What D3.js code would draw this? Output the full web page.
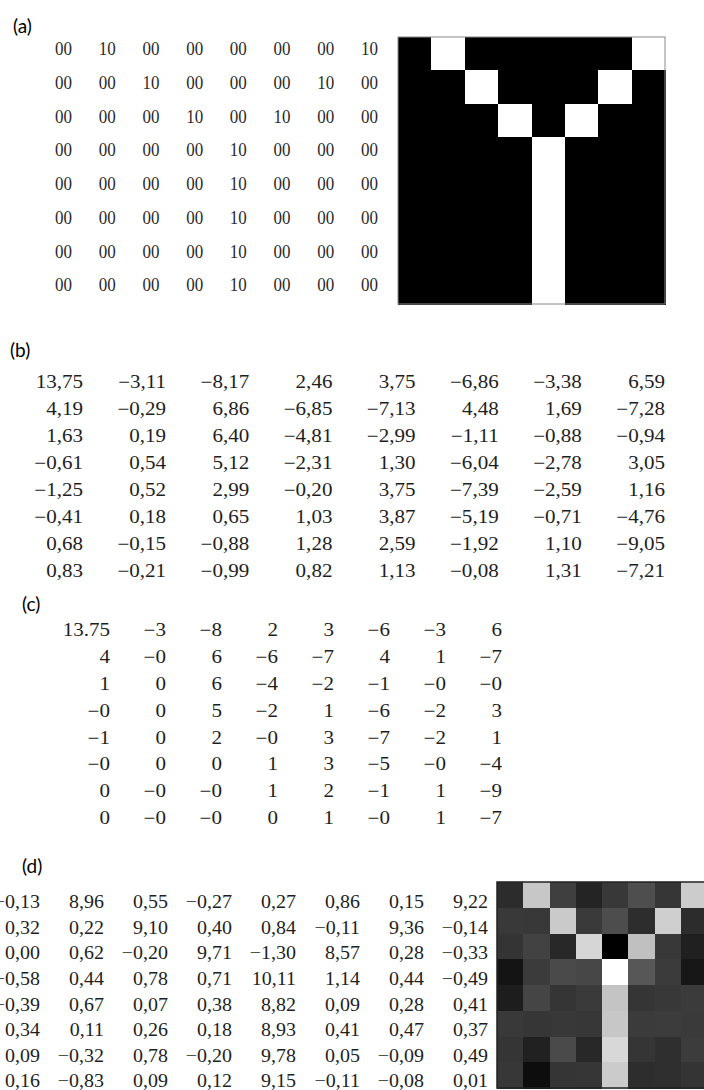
<!DOCTYPE html>
<html>
<head>
<meta charset="utf-8">
<script src="https://cdn.jsdelivr.net/npm/d3@7"></script>
<style>
  html, body { margin: 0; padding: 0; background: #fff; }
  svg { display: block; }
</style>
</head>
<body>
<svg id="fig" width="704" height="1090"></svg>
<script>
// (a) 8x8 binary "Y" pattern, values 0 / 10
const patternA = [
  [0, 10, 0, 0, 0, 0, 0, 10],
  [0, 0, 10, 0, 0, 0, 10, 0],
  [0, 0, 0, 10, 0, 10, 0, 0],
  [0, 0, 0, 0, 10, 0, 0, 0],
  [0, 0, 0, 0, 10, 0, 0, 0],
  [0, 0, 0, 0, 10, 0, 0, 0],
  [0, 0, 0, 0, 10, 0, 0, 0],
  [0, 0, 0, 0, 10, 0, 0, 0]
];

// (b) transform coefficients
const coeffB = [
  [13.75, -3.11, -8.17, 2.46, 3.75, -6.86, -3.38, 6.59],
  [4.19, -0.29, 6.86, -6.85, -7.13, 4.48, 1.69, -7.28],
  [1.63, 0.19, 6.40, -4.81, -2.99, -1.11, -0.88, -0.94],
  [-0.61, 0.54, 5.12, -2.31, 1.30, -6.04, -2.78, 3.05],
  [-1.25, 0.52, 2.99, -0.20, 3.75, -7.39, -2.59, 1.16],
  [-0.41, 0.18, 0.65, 1.03, 3.87, -5.19, -0.71, -4.76],
  [0.68, -0.15, -0.88, 1.28, 2.59, -1.92, 1.10, -9.05],
  [0.83, -0.21, -0.99, 0.82, 1.13, -0.08, 1.31, -7.21]
];

// (c) truncated coefficients (DC term kept)
const coeffC = [
  [13.75, -3, -8, 2, 3, -6, -3, 6],
  [4, -0, 6, -6, -7, 4, 1, -7],
  [1, 0, 6, -4, -2, -1, -0, -0],
  [-0, 0, 5, -2, 1, -6, -2, 3],
  [-1, 0, 2, -0, 3, -7, -2, 1],
  [-0, 0, 0, 1, 3, -5, -0, -4],
  [0, -0, -0, 1, 2, -1, 1, -9],
  [0, -0, -0, 0, 1, -0, 1, -7]
];

// (d) reconstructed block
const reconD = [
  [-0.13, 8.96, 0.55, -0.27, 0.27, 0.86, 0.15, 9.22],
  [0.32, 0.22, 9.10, 0.40, 0.84, -0.11, 9.36, -0.14],
  [0.00, 0.62, -0.20, 9.71, -1.30, 8.57, 0.28, -0.33],
  [-0.58, 0.44, 0.78, 0.71, 10.11, 1.14, 0.44, -0.49],
  [-0.39, 0.67, 0.07, 0.38, 8.82, 0.09, 0.28, 0.41],
  [0.34, 0.11, 0.26, 0.18, 8.93, 0.41, 0.47, 0.37],
  [0.09, -0.32, 0.78, -0.20, 9.78, 0.05, -0.09, 0.49],
  [0.16, -0.83, 0.09, 0.12, 9.15, -0.11, -0.08, 0.01]
];

const panelLabels = ["(a)", "(b)", "(c)", "(d)"];

// ---------------------------------------------------------------
const svg = d3.select("#fig");
const idx = d3.range(8);

// number formats; negative zero keeps its sign
const MINUS = "\u2212";
const signed = f => v => (v < 0 || Object.is(v, -0)) ? MINUS + f(Math.abs(v)) : f(v);
const commaLocale = d3.formatLocale({
  decimal: ",", thousands: ".", grouping: [3], currency: ["", ""]
});
const fmtComma = signed(commaLocale.format(".2f"));
const fmtTrunc = signed(v => Number.isInteger(v) ? d3.format("d")(v) : d3.format(".2f")(v));
const fmtPad = d3.format("02d");

function drawMatrix(data, o) {
  const x = d3.scalePoint().domain(idx).range([o.x0, o.x1]);
  const y = d3.scalePoint().domain(idx).range([o.y0, o.y1]);
  const cells = data.flatMap((row, i) => row.map((v, j) => ({ i, j, v })));
  svg.append("g")
    .attr("font-family", "'Liberation Serif', 'Times New Roman', serif")
    .attr("font-size", o.size)
    .attr("fill", o.color || "#1e1e1e")
    .selectAll("text")
    .data(cells)
    .join("text")
    .attr("text-anchor", "end")
    .attr("transform", d => `translate(${x(d.j)},${y(d.i) + o.size * 0.34}) scale(${o.sx},1)`)
    .text(d => o.fmt(d.v));
}

function drawGrid(data, o, color) {
  const x = d3.scaleBand().domain(idx).range([o.x0, o.x1]);
  const y = d3.scaleBand().domain(idx).range([o.y0, o.y1]);
  const cells = data.flatMap((row, i) => row.map((v, j) => ({ i, j, v })));
  const g = svg.append("g");
  g.selectAll("rect")
    .data(cells)
    .join("rect")
    .attr("shape-rendering", "crispEdges")
    .attr("x", d => x(d.j))
    .attr("y", d => y(d.i))
    .attr("width", x.bandwidth() + 1)
    .attr("height", y.bandwidth() + 1)
    .attr("fill", d => color(d.v));
  g.append("rect")
    .attr("x", o.x0).attr("y", o.y0)
    .attr("width", o.x1 - o.x0).attr("height", o.y1 - o.y0)
    .attr("fill", "none")
    .attr("stroke", o.stroke)
    .attr("stroke-width", o.strokeWidth);
}

// panel labels
const labelPos = [[13, 33], [10, 357], [22, 611], [22, 873]];
svg.append("g")
  .attr("font-family", "Lato, 'Open Sans', sans-serif")
  .attr("font-size", 19)
  .attr("fill", "#000")
  .selectAll("text")
  .data(panelLabels)
  .join("text")
  .attr("x", (d, k) => labelPos[k][0])
  .attr("y", (d, k) => labelPos[k][1])
  .text(d => d);

// (a) values and image
drawMatrix(patternA, { x0: 72, x1: 378, y0: 49, y1: 285, size: 18.5, sx: 0.92, fmt: fmtPad, color: "#2a2a2a" });
const grayA = d3.scaleLinear().domain([0, 10]).range(["#000", "#fff"]);
drawGrid(patternA, { x0: 398, x1: 665, y0: 37, y1: 304, stroke: "#8a8a8a", strokeWidth: 1 }, grayA);

// (b) coefficients
drawMatrix(coeffB, { x0: 83, x1: 665, y0: 382, y1: 571, size: 18, sx: 1.17, fmt: fmtComma });

// (c) truncated coefficients
drawMatrix(coeffC, { x0: 110, x1: 502, y0: 630, y1: 818, size: 18, sx: 1.17, fmt: fmtTrunc });

// (d) reconstruction values and image
drawMatrix(reconD, { x0: 40, x1: 488, y0: 902, y1: 1081, size: 18.5, sx: 1.08, fmt: fmtComma });
const grayD = d3.scaleLinear()
  .domain([-1.3, -0.5, 0, 0.5, 1, 8.6, 9.8, 10.11])
  .range([0, 22, 52, 60, 85, 192, 216, 255])
  .clamp(true);
drawGrid(reconD, { x0: 497, x1: 707, y0: 882, y1: 1088, stroke: "#222", strokeWidth: 1.5 },
  v => { const g = Math.round(grayD(v)); return d3.rgb(g, g, g).formatHex(); });
</script>
</body>
</html>
